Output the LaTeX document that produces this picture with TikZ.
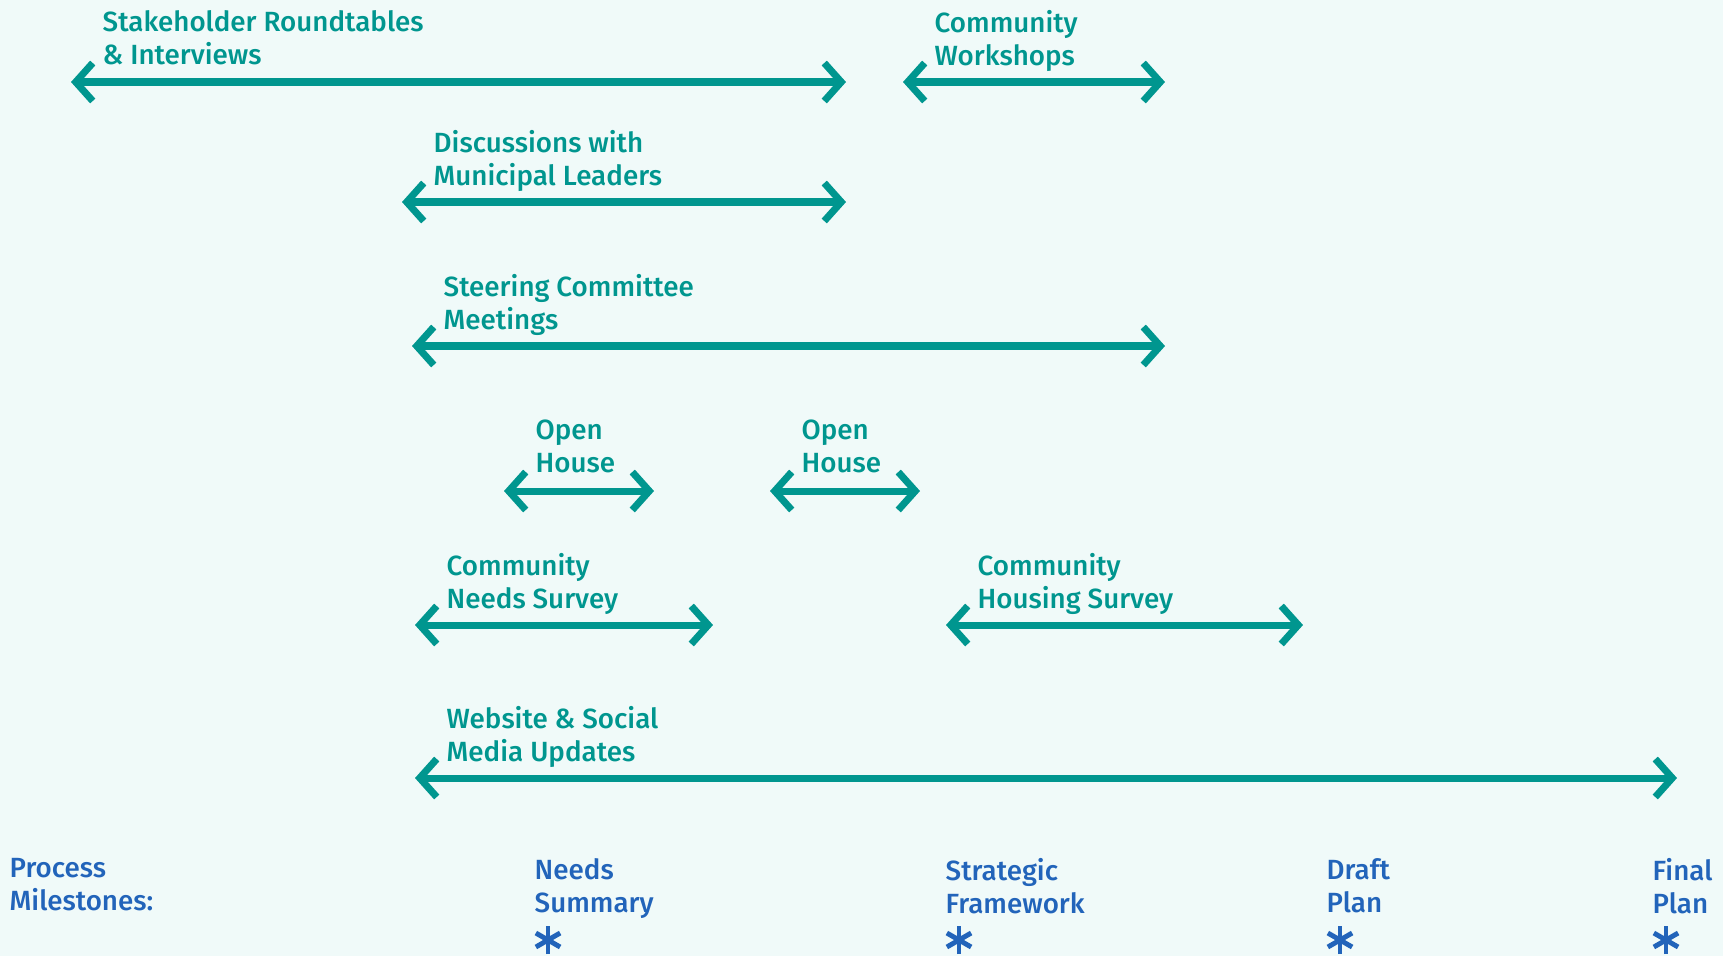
\documentclass[tikz,border=0pt]{standalone}
\usepackage{fontspec}
\setmainfont{Fira Sans}[UprightFont=* Medium]
\usepackage{tikz}
\usetikzlibrary{arrows.meta,calc}
\definecolor{fond}{RGB}{240,250,249}
\definecolor{sarcelle}{RGB}{0,150,143}
\definecolor{jalon}{RGB}{34,100,186}
\tikzset{
  duree/.style={draw=sarcelle,line width=2pt,
    >={Straight Barb[length=0.17cm,width=0.38cm,line cap=butt,line join=miter]},<->},
  etiq/.style={anchor=north west,inner sep=0pt,align=left,text=sarcelle,
    font=\fontsize{7.9}{9.4}\selectfont,execute at begin node=\strut},
}
\begin{document}
\begin{tikzpicture}[x=0.01cm,y=-0.01cm]
  \fill[fond](0,0) rectangle (1723,956);
  % activites : nom / debut / fin / hauteur / texte
  \foreach \n/\xa/\xb/\y/\txt in {
      sr/71/846/82/{Stakeholder Roundtables\\\& Interviews},
      cw/903/1165/82/{Community\\Workshops},
      ml/402/846/202/{Discussions with\\Municipal Leaders},
      sc/412/1165/346/{Steering Committee\\Meetings},
      oa/504/654/491/{Open\\House},
      ob/770/920/491/{Open\\House},
      ns/415/713/625/{Community\\Needs Survey},
      hs/946/1303/625/{Community\\Housing Survey},
      ws/415/1677/778/{Website \& Social\\Media Updates}}{
    \coordinate (\n-g) at (\xa,\y);
    \coordinate (\n-d) at (\xb,\y);
    \draw[duree](\n-g)--(\n-d);
    \node[etiq] (\n) at ($(\n-g)+(31,-72)$){\txt};
  }
  % jalons
  \node[etiq,text=jalon] (pm) at (9,858){Process\\Milestones:};
  \foreach \n/\x/\txt in {mns/534/{Needs\\Summary},msf/945/{Strategic\\Framework},
                          mdp/1326/{Draft\\Plan},mfp/1652/{Final\\Plan}}{
    \node[etiq,text=jalon] (\n) at (\x,858){\txt};
    \coordinate (\n-e) at (\x+14,940);
    \foreach \a in {90,30,150}
      \draw[jalon,line width=1.4pt]($(\n-e)+(\a:14)$)--($(\n-e)+(\a+180:14)$);
  }
\end{tikzpicture}
\end{document}
